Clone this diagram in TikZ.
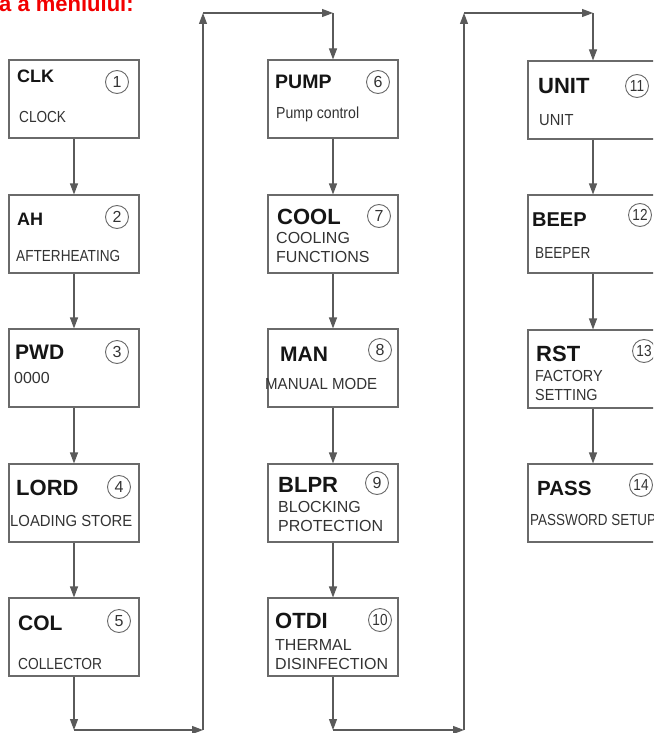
\documentclass[tikz,border=0pt]{standalone}
\usepackage{fontspec}
\setmainfont{Liberation Sans}
\usetikzlibrary{arrows.meta}
\definecolor{ln}{HTML}{5A5A5A}
\definecolor{bx}{HTML}{6A6A6A}
\definecolor{txt}{HTML}{151515}
\definecolor{txtb}{HTML}{333333}
\definecolor{hdrred}{HTML}{F20000}
\newcommand{\cnd}[2]{\scalebox{#1}[1]{#2}}
\tikzset{
  box/.style={draw=bx, line width=1.1pt, minimum width=130pt, minimum height=78pt, inner sep=0pt, fill=white},
  arr/.style={draw=ln, line width=1.1pt, -{Triangle[length=11pt,width=8pt]}},
  ttl/.style={anchor=base west, inner sep=0pt, text=txt, font=\bfseries\fontsize{#1}{#1}\selectfont},
  ttl/.default=20,
  sub/.style={anchor=base west, inner sep=0pt, text=txtb, font=\fontsize{16}{18.5}\selectfont, align=left},
  num/.style={draw=bx, circle, line width=0.9pt, minimum size=23pt, inner sep=0pt, text=txtb, font=\fontsize{16}{16}\selectfont}
}
\begin{document}
\begin{tikzpicture}[x=1pt,y=-1pt]
\clip (0,0) rectangle (653,733);
\fill[white] (0,0) rectangle (653,733);
% header (cut off at top)
\node[anchor=base west, inner sep=0pt, text=hdrred, font=\bfseries\fontsize{22}{22}\selectfont] (hdr) at (-1,11.5) {a a meniului:};
% boxes column 1
\node[box] (b1) at (74,99) {};
\node[box] (b2) at (74,234) {};
\node[box] (b3) at (74,368) {};
\node[box] (b4) at (74,503) {};
\node[box] (b5) at (74,637) {};
% column 2
\node[box] (b6) at (333,99) {};
\node[box] (b7) at (333,234) {};
\node[box] (b8) at (333,368) {};
\node[box] (b9) at (333,503) {};
\node[box] (b10) at (333,637) {};
% column 3
\node[box] (b11) at (593,100) {};
\node[box] (b12) at (593,234) {};
\node[box] (b13) at (593,369) {};
\node[box] (b14) at (593,503) {};
% titles
\node[ttl=18] (t1) at (17,83) {CLK};
\node[ttl=18] (t2) at (17,225) {AH};
\node[ttl=21] (t3) at (15,359) {PWD};
\node[ttl=22] (t4) at (16,495) {LORD};
\node[ttl=21] (t5) at (18,630) {COL};
\node[ttl=19.5] (t6) at (275,89) {PUMP};
\node[ttl=22] (t7) at (277,224) {COOL};
\node[ttl=21] (t8) at (280,361) {MAN};
\node[ttl=22] (t9) at (278,492) {BLPR};
\node[ttl=22] (t10) at (275,628) {OTDI};
\node[ttl=22] (t11) at (538,94) {UNIT};
\node[ttl=20] (t12) at (532,226) {BEEP};
\node[ttl=22] (t13) at (536,361) {RST};
\node[ttl=20.5] (t14) at (537,495) {PASS};
% subtitles
\node[sub] (s1) at (19,123) {\cnd{0.85}{CLOCK}};
\node[sub] (s2) at (16,261) {\cnd{0.85}{AFTERHEATING}};
\node[sub] (s3) at (14,383) {0000};
\node[sub] (s4) at (10,526) {\cnd{0.93}{LOADING STORE}};
\node[sub] (s5) at (18,669) {\cnd{0.86}{COLLECTOR}};
\node[sub] (s6) at (276,118) {\cnd{0.88}{Pump control}};
\node[sub] (s7) at (276,262) {COOLING\\FUNCTIONS};
\node[sub] (s8) at (265,389) {\cnd{0.94}{MANUAL MODE}};
\node[sub] (s9) at (278,531) {BLOCKING\\PROTECTION};
\node[sub] (s10) at (275,669) {THERMAL\\DISINFECTION};
\node[sub] (s11) at (539,125) {\cnd{0.92}{UNIT}};
\node[sub] (s12) at (535,258) {\cnd{0.85}{BEEPER}};
\node[sub] (s13) at (535,400) {\cnd{0.9}{FACTORY}\\\cnd{0.9}{SETTING}};
\node[sub] (s14) at (530,525) {\cnd{0.84}{PASSWORD SETUP}};
% numbers
\node[num] (n1) at (117,82) {1};
\node[num] (n2) at (117,217) {2};
\node[num] (n3) at (117,352) {3};
\node[num] (n4) at (119,487) {4};
\node[num] (n5) at (119,621) {5};
\node[num] (n6) at (378,82) {6};
\node[num] (n7) at (379,216) {7};
\node[num] (n8) at (380,350) {8};
\node[num] (n9) at (377,483) {9};
\node[num] (n10) at (380,620) {\cnd{0.85}{10}};
\node[num] (n11) at (637,86) {\cnd{0.85}{11}};
\node[num] (n12) at (640,215) {\cnd{0.85}{12}};
\node[num] (n13) at (644,351) {\cnd{0.85}{13}};
\node[num] (n14) at (641,485) {\cnd{0.85}{14}};
% routing points
\coordinate (c1) at (74,730);
\coordinate (c2) at (203,730);
\coordinate (c3) at (203,13);
\coordinate (c4) at (333,13);
\coordinate (c5) at (333,730);
\coordinate (c6) at (464,730);
\coordinate (c7) at (464,13);
\coordinate (c8) at (593,13);
% connectors column 1
\draw[arr] (b1.south) -- (b2.north);
\draw[arr] (b2.south) -- (b3.north);
\draw[arr] (b3.south) -- (b4.north);
\draw[arr] (b4.south) -- (b5.north);
\draw[arr] (b5.south) -- (c1);
\draw[arr] (c1) -- (c2);
\draw[arr] (c2) -- (c3);
\draw[arr] (c3) -- (c4);
\draw[arr] (c4) -- (b6.north);
% column 2
\draw[arr] (b6.south) -- (b7.north);
\draw[arr] (b7.south) -- (b8.north);
\draw[arr] (b8.south) -- (b9.north);
\draw[arr] (b9.south) -- (b10.north);
\draw[arr] (b10.south) -- (c5);
\draw[arr] (c5) -- (c6);
\draw[arr] (c6) -- (c7);
\draw[arr] (c7) -- (c8);
\draw[arr] (c8) -- (b11.north);
% column 3
\draw[arr] (b11.south) -- (b12.north);
\draw[arr] (b12.south) -- (b13.north);
\draw[arr] (b13.south) -- (b14.north);
\end{tikzpicture}
\end{document}
